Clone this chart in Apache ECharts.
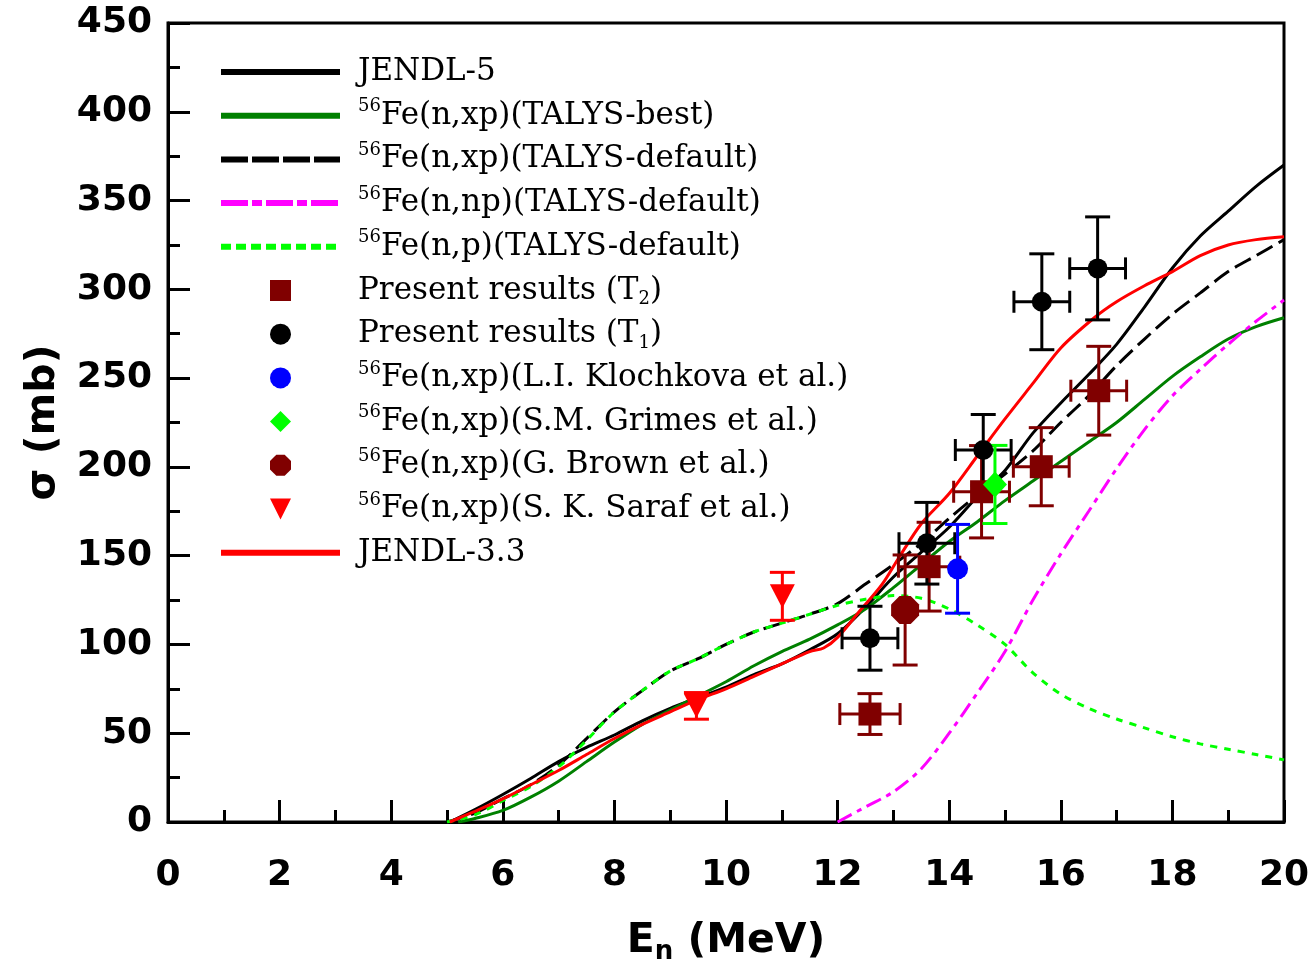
<!DOCTYPE html>
<html>
<head>
<meta charset="utf-8">
<script src="https://cdn.jsdelivr.net/npm/echarts@6/dist/echarts.min.js"></script>
<style>
  html, body { margin: 0; padding: 0; background: #fff; }
  #chart { width: 1314px; height: 966px; }
</style>
</head>
<body>
<div id="chart"></div>
<script>
// Evaluated cross sections, pairs of [En (MeV), sigma (mb)]
const jendl5 = [[5.05,0],[5.5,7],[6.0,15.5],[6.5,24.5],[7.0,34],[7.5,42],[8.0,49],[8.5,57],[9.0,64],[9.5,70],[10.0,76],[10.5,83],[11.0,89],[11.5,97],[12.0,106],[12.5,121],[13.0,138],[13.5,152],[14.0,166],[14.5,183],[15.0,198],[15.5,219],[16.0,236],[16.5,252],[17.0,269],[17.5,290],[18.0,312],[18.5,330],[19.0,344],[19.5,358],[20.0,370]];
const talysBestXp = [[5.2,0],[5.5,2],[6.0,6.5],[6.5,14],[7.0,23],[7.5,34],[8.0,45],[8.5,55],[9.0,63],[9.5,71],[10.0,79],[10.5,88],[11.0,96],[11.5,103],[12.0,111],[12.5,120],[13.0,132],[13.5,145],[14.0,158],[14.5,169],[15.0,181],[15.5,192],[16.0,203],[16.5,214],[17.0,225],[17.5,238],[18.0,251],[18.5,262],[19.0,272],[19.5,279],[20.0,284]];
const talysDefXp = [[5.0,0],[5.5,5],[6.0,13],[6.5,21],[7.0,32],[7.5,47],[8.0,62],[8.5,74],[9.0,85],[9.5,92],[10.0,100],[10.5,107],[11.0,112],[11.5,117],[12.0,123],[12.5,134],[13.0,145],[13.5,157],[14.0,171],[14.5,184],[15.0,196],[15.5,209],[16.0,225],[16.5,240],[17.0,257],[17.5,272],[18.0,286],[18.5,298],[19.0,310],[19.5,319],[20.0,328]];
const talysDefNp = [[12.0,0],[12.5,8.5],[13.0,17],[13.5,30],[14.0,50],[14.5,72.5],[15.0,96],[15.5,125],[16.0,151],[16.5,175],[17.0,199],[17.5,221],[18.0,240],[18.5,255],[19.0,269],[19.5,282],[20.0,294]];
const talysDefP = [[5.0,0],[5.5,4],[6.0,12],[6.5,20],[7.0,31],[7.5,46],[8.0,62],[8.5,74],[9.0,85],[9.5,92],[10.0,100],[10.5,107],[11.0,112],[11.5,117],[12.0,122],[12.5,125.5],[13.0,127.5],[13.5,126],[14.0,120],[14.5,111],[15.0,100],[15.5,84],[16.0,72],[16.5,64],[17.0,58],[17.5,53],[18.0,48],[18.5,44],[19.0,41],[19.5,38],[20.0,35]];
const jendl33 = [[5.05,0],[5.5,6],[6.0,13],[6.5,21],[7.0,29],[7.5,38],[8.0,47],[8.5,55],[9.0,62],[9.5,69],[10.0,75],[10.5,82],[11.0,89],[11.5,96],[11.75,98],[12.0,104],[12.4,119],[12.8,134],[13.1,149],[13.5,168],[14.0,185],[14.5,206],[15.0,227],[15.5,247],[16.0,267],[16.6,284],[17.0,293],[17.5,302],[18.0,310],[18.5,319],[19.0,325],[19.5,328],[20.0,329.6]];

// Measurements: [En (MeV), sigma (mb), d-sigma (mb), d-En (MeV)]
const presentT2 = [[12.58,60.8,11.5,0.54],[13.64,143.8,25,0.55],[14.58,186,26,0.5],[15.65,200.1,22,0.5],[16.68,242.9,25,0.5]];
const presentT1 = [[12.58,103.5,18,0.5],[13.6,157,23,0.5],[14.61,209.5,20,0.5],[15.66,293,27,0.5],[16.66,311.8,29,0.5]];
const klochkova = [[14.15,142.6,25,0]];
const grimes = [[14.82,190.1,22,0]];
const brown = [[13.21,119.4,31,0]];
const saraf = [[11.01,127.1,13.5,0],[9.47,65.4,7.5,0]];

// Axis ticks
const xTicks = { min: 0, max: 20, step: 2 };
const yTicks = { min: 0, max: 450, step: 50 };

const NAMES = {
  jendl5: 'JENDL-5',
  best: '56Fe(n,xp)(TALYS-best)',
  defXp: '56Fe(n,xp)(TALYS-default)',
  defNp: '56Fe(n,np)(TALYS-default)',
  defP: '56Fe(n,p)(TALYS-default)',
  t2: 'Present results (T2)',
  t1: 'Present results (T1)',
  klo: '56Fe(n,xp)(L.I. Klochkova et al.)',
  gri: '56Fe(n,xp)(S.M. Grimes et al.)',
  bro: '56Fe(n,xp)(G. Brown et al.)',
  sar: '56Fe(n,xp)(S. K. Saraf et al.)',
  jendl33: 'JENDL-3.3'
};

const OCTAGON = 'path://M3,0L7,0L10,3L10,7L7,10L3,10L0,7L0,3Z';
const SQUARE = 'path://M0,0L10,0L10,10L0,10Z';
const DIAMOND = 'path://M5,0L10,5L5,10L0,5Z';
const TRI_DOWN = 'path://M0,0L10,0L5,10Z';

function curve(name, data, color, type) {
  return {
    type: 'line', name, data, smooth: 0.3, symbol: 'none', showSymbol: false,
    z: 2, silent: true,
    lineStyle: { color, width: 3, type: type || 'solid' },
    itemStyle: { color }
  };
}

function points(name, data, color, symbol, size, rotate) {
  return {
    type: 'scatter', name, z: 5, silent: true,
    data: data.map(d => [d[0], d[1]]),
    symbol, symbolSize: size, symbolRotate: rotate || 0,
    itemStyle: { color, opacity: 1 }
  };
}

function errorBars(id, data, color) {
  return {
    type: 'custom', name: id, data, z: 4, silent: true,
    encode: { x: 0, y: 1 },
    renderItem(params, api) {
      const x = api.value(0), y = api.value(1), dy = api.value(2), dx = api.value(3);
      const st = { stroke: color, lineWidth: 3 };
      const top = api.coord([x, y + dy]);
      const bot = api.coord([x, y - dy]);
      const capY = 12.5, capX = 11;
      const kids = [
        { type: 'line', shape: { x1: top[0], y1: top[1], x2: bot[0], y2: bot[1] }, style: st },
        { type: 'line', shape: { x1: top[0] - capY, y1: top[1], x2: top[0] + capY, y2: top[1] }, style: st },
        { type: 'line', shape: { x1: bot[0] - capY, y1: bot[1], x2: bot[0] + capY, y2: bot[1] }, style: st }
      ];
      if (dx > 0) {
        const l = api.coord([x - dx, y]);
        const r = api.coord([x + dx, y]);
        kids.push(
          { type: 'line', shape: { x1: l[0], y1: l[1], x2: r[0], y2: r[1] }, style: st },
          { type: 'line', shape: { x1: l[0], y1: l[1] - capX, x2: l[0], y2: l[1] + capX }, style: st },
          { type: 'line', shape: { x1: r[0], y1: r[1] - capX, x2: r[0], y2: r[1] + capX }, style: st }
        );
      }
      return { type: 'group', children: kids };
    }
  };
}

const tickFont = { fontFamily: 'DejaVu Sans', fontWeight: 'bold', fontSize: 36, color: '#000' };
const nameFont = { fontFamily: 'DejaVu Sans', fontWeight: 'bold', fontSize: 41, color: '#000' };
const axisBase = {
  type: 'value',
  axisLine: { show: true, onZero: false, lineStyle: { color: '#000', width: 3 } },
  axisTick: { show: true, inside: true, length: 22, lineStyle: { color: '#000', width: 3 } },
  minorTick: { show: true, splitNumber: 2, length: 12, lineStyle: { color: '#000', width: 3 } },
  splitLine: { show: false },
  minorSplitLine: { show: false }
};

// legend rows for curves show only the line sample
const lineOnly = { itemStyle: { opacity: 0 } };

const option = {
  animation: false,
  backgroundColor: '#fff',
  grid: {
    left: 168, right: 30, top: 23, bottom: 144,
    containLabel: false, outerBoundsMode: 'none',
    show: true, borderColor: '#000', borderWidth: 3, backgroundColor: 'transparent'
  },
  xAxis: Object.assign({}, axisBase, {
    min: xTicks.min, max: xTicks.max, interval: xTicks.step,
    axisLabel: Object.assign({ margin: 36 }, tickFont),
    name: 'E{sub|n} (MeV)', nameLocation: 'middle', nameGap: 95,
    nameTextStyle: Object.assign({ lineHeight: 48, rich: { sub: { fontFamily: 'DejaVu Sans', fontWeight: 'bold', fontSize: 26, lineHeight: 30, verticalAlign: 'bottom', color: '#000' } } }, nameFont)
  }),
  yAxis: Object.assign({}, axisBase, {
    min: yTicks.min, max: yTicks.max, interval: yTicks.step,
    axisLabel: Object.assign({ margin: 16 }, tickFont),
    name: 'σ (mb)', nameLocation: 'middle', nameGap: 104,
    nameTextStyle: nameFont
  }),
  legend: {
    show: true, orient: 'vertical', left: 218, top: 54, padding: 0,
    itemWidth: 119, itemHeight: 21, itemGap: 7.7, selectedMode: false,
    lineStyle: { width: 6 },
    textStyle: {
      fontFamily: 'DejaVu Serif', fontSize: 31, color: '#000', lineHeight: 36, padding: [0, 0, 0, 13],
      rich: {
        sup: { fontFamily: 'DejaVu Serif', fontSize: 18, lineHeight: 26, verticalAlign: 'top', color: '#000' },
        sub: { fontFamily: 'DejaVu Serif', fontSize: 18, lineHeight: 22, verticalAlign: 'bottom', color: '#000' }
      }
    },
    formatter(name) {
      if (name.indexOf('56') === 0) return '{sup|56}' + name.slice(2);
      const m = name.match(/^(Present results \(T)(\d)(\))$/);
      if (m) return m[1] + '{sub|' + m[2] + '}' + m[3];
      return name;
    },
    data: [
      Object.assign({ name: NAMES.jendl5 }, lineOnly),
      Object.assign({ name: NAMES.best }, lineOnly),
      Object.assign({ name: NAMES.defXp, lineStyle: { type: [27, 4] } }, lineOnly),
      Object.assign({ name: NAMES.defNp, lineStyle: { type: [27, 4, 10, 4] } }, lineOnly),
      Object.assign({ name: NAMES.defP, lineStyle: { type: [10, 5] } }, lineOnly),
      { name: NAMES.t2, icon: SQUARE },
      { name: NAMES.t1, icon: 'circle' },
      { name: NAMES.klo, icon: 'circle' },
      { name: NAMES.gri, icon: DIAMOND },
      { name: NAMES.bro, icon: OCTAGON },
      { name: NAMES.sar, icon: TRI_DOWN },
      Object.assign({ name: NAMES.jendl33 }, lineOnly)
    ]
  },
  series: [
    curve(NAMES.jendl5, jendl5, '#000000'),
    curve(NAMES.best, talysBestXp, '#008000'),
    curve(NAMES.defXp, talysDefXp, '#000000', [18, 7]),
    curve(NAMES.defNp, talysDefNp, '#ff00ff', [16, 6, 5, 6]),
    curve(NAMES.defP, talysDefP, '#00ff00', [7, 7]),
    curve(NAMES.jendl33, jendl33, '#ff0000'),
    errorBars('err-t2', presentT2, '#800000'),
    errorBars('err-t1', presentT1, '#000000'),
    errorBars('err-klo', klochkova, '#0000ff'),
    errorBars('err-gri', grimes, '#00ff00'),
    errorBars('err-bro', brown, '#800000'),
    errorBars('err-sar', saraf, '#ff0000'),
    points(NAMES.t2, presentT2, '#800000', 'rect', 23),
    points(NAMES.t1, presentT1, '#000000', 'circle', 20),
    points(NAMES.klo, klochkova, '#0000ff', 'circle', 21),
    points(NAMES.gri, grimes, '#00ff00', 'diamond', [24, 26]),
    points(NAMES.bro, brown, '#800000', OCTAGON, 28),
    points(NAMES.sar, saraf, '#ff0000', 'triangle', [25, 24], 180)
  ]
};

const chart = echarts.init(document.getElementById('chart'), null, { renderer: 'canvas' });
chart.setOption(option);
</script>
</body>
</html>
